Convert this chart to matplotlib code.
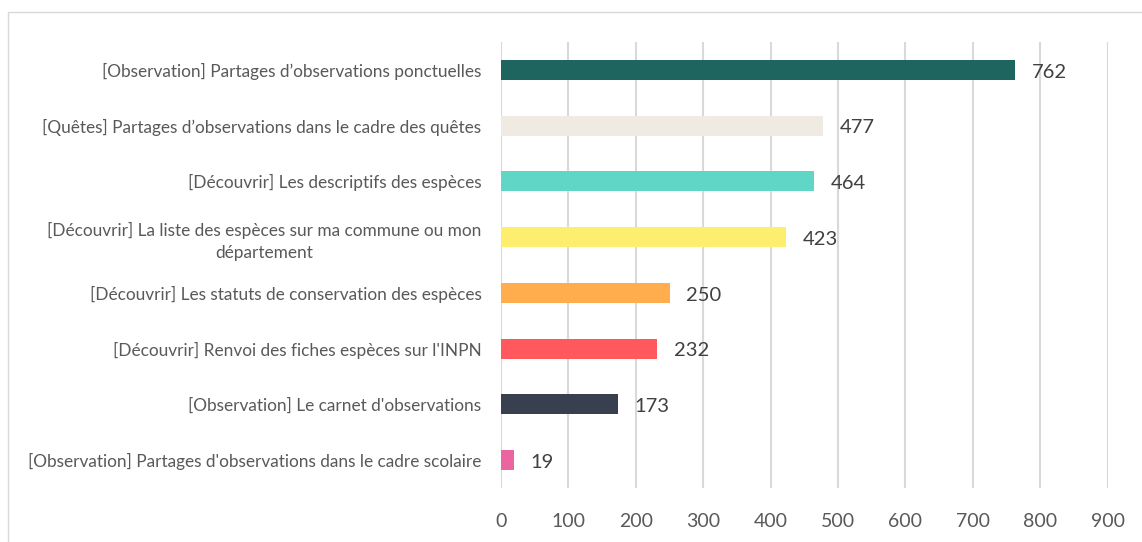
import matplotlib.pyplot as plt
from matplotlib.patches import Rectangle

plt.rcParams['font.family'] = ['Lato', 'DejaVu Sans']

categories = [
    "[Observation] Partages d\u2019observations ponctuelles",
    "[Qu\u00eates] Partages d\u2019observations dans le cadre des qu\u00eates",
    "[D\u00e9couvrir] Les descriptifs des esp\u00e8ces",
    "[D\u00e9couvrir] La liste des esp\u00e8ces sur ma commune ou mon\nd\u00e9partement",
    "[D\u00e9couvrir] Les statuts de conservation des esp\u00e8ces",
    "[D\u00e9couvrir] Renvoi des fiches esp\u00e8ces sur l'INPN",
    "[Observation] Le carnet d'observations",
    "[Observation] Partages d'observations dans le cadre scolaire",
]
values = [762, 477, 464, 423, 250, 232, 173, 19]
colors = ["#1E6560", "#EFEBE3", "#60D6C6", "#FDEE6E",
          "#FFAD4D", "#FF585D", "#383F4E", "#EC64A0"]
xticks = [0, 100, 200, 300, 400, 500, 600, 700, 800, 900]

fig = plt.figure(figsize=(11.42, 5.42), dpi=100)
ax = fig.add_axes([0.4387, 0.0996, 0.5313, 0.8229])

# chart frame
fig.patches.append(Rectangle((8 / 1142, -0.1), 1.2, 1 - 12 / 542 + 0.1,
                             transform=fig.transFigure, fill=False,
                             edgecolor="#D9D9D9", linewidth=1))

ypos = list(range(len(categories)))
ax.barh(ypos, values, height=0.36, color=colors, zorder=3)
for y, v in zip(ypos, values):
    ax.text(v + 25, y + 0.04, str(v), va="center", ha="left", fontsize=14.5,
            color="#404040", zorder=4)

ax.set_ylim(len(categories) - 0.5, -0.5)
ax.set_xlim(0, 900)
ax.set_xticks(xticks)
ax.set_xticklabels([str(t) for t in xticks], fontsize=14, color="#595959")
ax.set_yticks(ypos)
ax.set_yticklabels(categories, fontsize=12.4, color="#595959",
                   multialignment="center", linespacing=1.45)
ax.tick_params(axis="y", length=0, pad=14)
ax.tick_params(axis="x", length=0, pad=18)
ax.grid(axis="x", color="#D9D9D9", linewidth=1.5, zorder=0)
for s in ax.spines.values():
    s.set_visible(False)

fig.savefig("out.png", dpi=100)
